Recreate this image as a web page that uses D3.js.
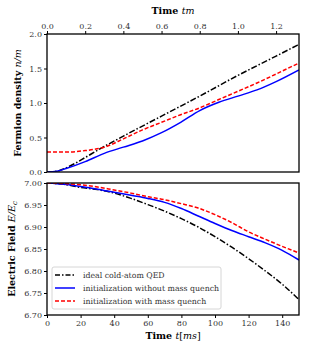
<!DOCTYPE html>
<html>
<head>
<meta charset="utf-8">
<script src="https://d3js.org/d3.v7.min.js"></script>
<style>
body { margin: 0; background: #fff; }
svg text { font-family: "DejaVu Serif", serif; }
</style>
</head>
<body>
<svg width="315" height="350"></svg>
<script>
var svg = d3.select("svg");

// top panel: fermion density vs time tm
var tmTicks = [0.0, 0.2, 0.4, 0.6, 0.8, 1.0, 1.2];
var densTicks = [0.0, 0.5, 1.0, 1.5, 2.0];
var tmIdeal = [0, 0.05, 0.1, 0.15, 0.2, 0.3, 0.4, 0.6, 0.8, 1.0, 1.2, 1.32];
var densIdeal = [0, 0.01, 0.06, 0.13, 0.21, 0.37, 0.52, 0.81, 1.1, 1.4, 1.68, 1.85];
var tmNoQ = [0, 0.05, 0.1, 0.2, 0.3, 0.4, 0.5, 0.6, 0.7, 0.8, 0.9, 1.0, 1.1, 1.2, 1.32];
var densNoQ = [0, 0.01, 0.05, 0.15, 0.27, 0.36, 0.45, 0.57, 0.72, 0.89, 1.01, 1.1, 1.19, 1.31, 1.48];
var tmQ = [0, 0.1, 0.2, 0.25, 0.3, 0.4, 0.5, 0.6, 0.7, 0.8, 0.9, 1.0, 1.1, 1.2, 1.32];
var densQ = [0.29, 0.29, 0.31, 0.33, 0.36, 0.48, 0.61, 0.72, 0.83, 0.93, 1.05, 1.17, 1.29, 1.42, 1.58];

// bottom panel: electric field vs time t[ms]
var msTicks = [0, 20, 40, 60, 80, 100, 120, 140];
var fieldTicks = [6.70, 6.75, 6.80, 6.85, 6.90, 6.95, 7.00];
var msPts = [0, 10, 20, 30, 40, 50, 60, 70, 80, 90, 100, 110, 120, 130, 140, 150];
var fieldIdeal = [7.0, 6.997, 6.99, 6.985, 6.977, 6.965, 6.951, 6.936, 6.919, 6.9, 6.878, 6.854, 6.828, 6.8, 6.77, 6.735];
var fieldNoQ = [7.0, 6.997, 6.992, 6.986, 6.979, 6.972, 6.965, 6.956, 6.942, 6.925, 6.908, 6.892, 6.878, 6.864, 6.847, 6.825];
var fieldQ = [7.0, 6.999, 6.996, 6.991, 6.984, 6.977, 6.969, 6.962, 6.953, 6.943, 6.928, 6.91, 6.889, 6.872, 6.856, 6.841];

var legendNames = ["ideal cold-atom QED", "initialization without mass quench", "initialization with mass quench"];

var left = 47, right = 299;
var top1 = 34, bot1 = 172, top2 = 183, bot2 = 315;
var serif = "'DejaVu Serif', serif";

var xTm = d3.scaleLinear().domain([0, 1.32]).range([left, right]);
var yDens = d3.scaleLinear().domain([0, 2]).range([bot1, top1]);
var xMs = d3.scaleLinear().domain([0, 150]).range([left, right]);
var yField = d3.scaleLinear().domain([6.70, 7.00]).range([bot2, top2]);

var styles = [
  {color: "#000", dash: "6,2,1.5,2"},
  {color: "#0000ff", dash: null},
  {color: "#ff0000", dash: "4,2"}
];

function drawLine(xs, ys, xsc, ysc, st, clip) {
  var line = d3.line()
    .x(function(d) { return xsc(d[0]); })
    .y(function(d) { return ysc(d[1]); })
    .curve(d3.curveMonotoneX);
  svg.append("path")
    .datum(d3.zip(xs, ys))
    .attr("clip-path", clip)
    .attr("fill", "none")
    .attr("stroke", st.color)
    .attr("stroke-width", 1.5)
    .attr("stroke-dasharray", st.dash)
    .attr("d", line);
}

var defs = svg.append("defs");
defs.append("clipPath").attr("id", "c1").append("rect")
  .attr("x", left).attr("y", top1).attr("width", right - left).attr("height", bot1 - top1);
defs.append("clipPath").attr("id", "c2").append("rect")
  .attr("x", left).attr("y", top2).attr("width", right - left).attr("height", bot2 - top2);

// axes
function styleAxis(g) {
  g.attr("font-family", serif);
  g.selectAll("text").attr("font-size", "8px").attr("fill", "#333");
  g.selectAll("line").attr("stroke", "#000");
  g.select(".domain").remove();
}

svg.append("g").attr("transform", "translate(0," + top1 + ")")
  .call(d3.axisTop(xTm).tickValues(tmTicks).tickFormat(d3.format(".1f")).tickSize(3).tickPadding(2))
  .call(styleAxis);
svg.append("g").attr("transform", "translate(" + left + ",0)")
  .call(d3.axisLeft(yDens).tickValues(densTicks).tickFormat(d3.format(".1f")).tickSize(3).tickPadding(2))
  .call(styleAxis);
svg.append("g").attr("transform", "translate(0," + bot2 + ")")
  .call(d3.axisBottom(xMs).tickValues(msTicks).tickSize(3).tickPadding(2))
  .call(styleAxis);
svg.append("g").attr("transform", "translate(" + left + ",0)")
  .call(d3.axisLeft(yField).tickValues(fieldTicks).tickFormat(d3.format(".2f")).tickSize(3).tickPadding(2))
  .call(styleAxis);

drawLine(tmIdeal, densIdeal, xTm, yDens, styles[0], "url(#c1)");
drawLine(tmQ, densQ, xTm, yDens, styles[2], "url(#c1)");
drawLine(tmNoQ, densNoQ, xTm, yDens, styles[1], "url(#c1)");

drawLine(msPts, fieldIdeal, xMs, yField, styles[0], "url(#c2)");
drawLine(msPts, fieldNoQ, xMs, yField, styles[1], "url(#c2)");
drawLine(msPts, fieldQ, xMs, yField, styles[2], "url(#c2)");

// frames
[[top1, bot1], [top2, bot2]].forEach(function(p) {
  svg.append("rect").attr("x", left).attr("y", p[0])
    .attr("width", right - left).attr("height", p[1] - p[0])
    .attr("fill", "none").attr("stroke", "#000").attr("stroke-width", 1.3);
});

// axis titles
var t1 = svg.append("text").attr("x", (left + right) / 2).attr("y", 14)
  .attr("text-anchor", "middle").attr("font-size", "9.5px");
t1.append("tspan").attr("font-weight", "bold").text("Time ");
t1.append("tspan").attr("font-style", "italic").text("tm");

var t2 = svg.append("text").attr("x", (left + right) / 2).attr("y", 339)
  .attr("text-anchor", "middle").attr("font-size", "9.5px");
t2.append("tspan").attr("font-weight", "bold").text("Time ");
t2.append("tspan").attr("font-style", "italic").text("t");
t2.append("tspan").text("[");
t2.append("tspan").attr("font-style", "italic").text("ms");
t2.append("tspan").text("]");

var y1 = svg.append("text").attr("transform", "translate(21," + ((top1 + bot1) / 2) + ") rotate(-90)")
  .attr("text-anchor", "middle").attr("font-size", "9.5px");
y1.append("tspan").attr("font-weight", "bold").text("Fermion density ");
y1.append("tspan").attr("font-style", "italic").text("n/m");

var y2 = svg.append("text").attr("transform", "translate(15," + ((top2 + bot2) / 2) + ") rotate(-90)")
  .attr("text-anchor", "middle").attr("font-size", "9.5px");
y2.append("tspan").attr("font-weight", "bold").text("Electric Field ");
y2.append("tspan").attr("font-style", "italic").text("E/E");
y2.append("tspan").attr("font-style", "italic").attr("font-size", "7px").attr("dy", 2).text("c");

// legend
var lg = svg.append("g").attr("transform", "translate(52,267)");
lg.append("rect").attr("width", 169).attr("height", 42).attr("rx", 2)
  .attr("fill", "#fff").attr("fill-opacity", 0.8).attr("stroke", "#ccc").attr("stroke-width", 0.8);
legendNames.forEach(function(name, i) {
  var yy = 8 + i * 13;
  lg.append("line").attr("x1", 3).attr("x2", 23).attr("y1", yy).attr("y2", yy)
    .attr("stroke", styles[i].color).attr("stroke-width", 1.5)
    .attr("stroke-dasharray", i === 0 ? "5,2,1.5,2" : styles[i].dash);
  lg.append("text").attr("x", 31).attr("y", yy + 3).attr("font-size", "7.8px")
    .attr("fill", "#333").text(name);
});
</script>
</body>
</html>
